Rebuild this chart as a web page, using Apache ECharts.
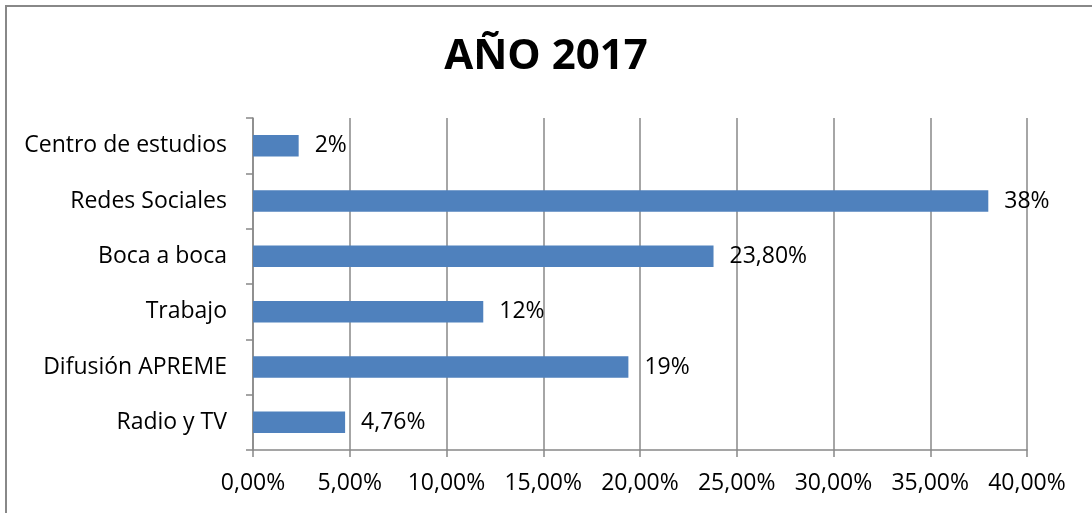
<!DOCTYPE html>
<html>
<head>
<meta charset="utf-8">
<title>AÑO 2017</title>
<script src="https://cdn.jsdelivr.net/npm/echarts@6/dist/echarts.min.js"></script>
<style>
  html, body { margin: 0; padding: 0; background: #fff; }
  #chart { width: 1092px; height: 513px; }
</style>
</head>
<body>
<div id="chart"></div>
<script>
// Categories, bottom to top (as ECharts draws a category y axis)
const categories = ['Radio y TV', 'Difusión APREME', 'Trabajo', 'Boca a boca', 'Redes Sociales', 'Centro de estudios'];

// Percent values
const values = [4.76, 19.4, 11.9, 23.8, 38, 2.36];

// Data labels as printed on the chart
const valueLabels = ['4,76%', '19%', '12%', '23,80%', '38%', '2%'];

// X axis ticks
const xMin = 0;
const xMax = 40;
const xStep = 5;

const FONT = '"Open Sans", "Liberation Sans", sans-serif';
const GRAY = '#888888';

const chart = echarts.init(document.getElementById('chart'));

chart.setOption({
    animation: false,
    backgroundColor: '#ffffff',
    title: {
        text: 'AÑO 2017',
        left: 'center',
        top: 31,
        textStyle: {
            fontFamily: FONT,
            fontSize: 42,
            fontWeight: 'bold',
            color: '#000'
        }
    },
    // chart frame, only the left and top edges fall inside the picture
    graphic: [{
        type: 'rect',
        shape: { x: 6, y: 6, width: 1200, height: 700 },
        style: { fill: 'none', stroke: GRAY, lineWidth: 2 },
        silent: true
    }],
    grid: {
        left: 253,
        right: 65,
        top: 118,
        bottom: 63
    },
    xAxis: {
        type: 'value',
        min: xMin,
        max: xMax,
        interval: xStep,
        axisLine: { show: true, lineStyle: { color: GRAY, width: 1.5 } },
        axisTick: { show: true, length: 7, lineStyle: { color: GRAY, width: 1.5 } },
        splitLine: { show: true, lineStyle: { color: GRAY, width: 1.5 } },
        axisLabel: {
            margin: 22,
            fontFamily: FONT,
            fontSize: 23,
            color: '#000',
            formatter: v => v.toFixed(2).replace('.', ',') + '%'
        }
    },
    yAxis: {
        type: 'category',
        data: categories,
        axisLine: { show: true, lineStyle: { color: GRAY, width: 1.5 } },
        axisTick: { show: true, length: 7, lineStyle: { color: GRAY, width: 1.5 } },
        axisLabel: {
            margin: 26,
            fontFamily: FONT,
            fontSize: 23,
            color: '#000'
        }
    },
    series: [{
        type: 'bar',
        data: values,
        barWidth: '39%',
        itemStyle: { color: '#4F81BD' },
        label: {
            show: true,
            position: 'right',
            distance: 16,
            fontFamily: FONT,
            fontSize: 23,
            color: '#000',
            formatter: p => valueLabels[p.dataIndex]
        }
    }]
});
</script>
</body>
</html>
